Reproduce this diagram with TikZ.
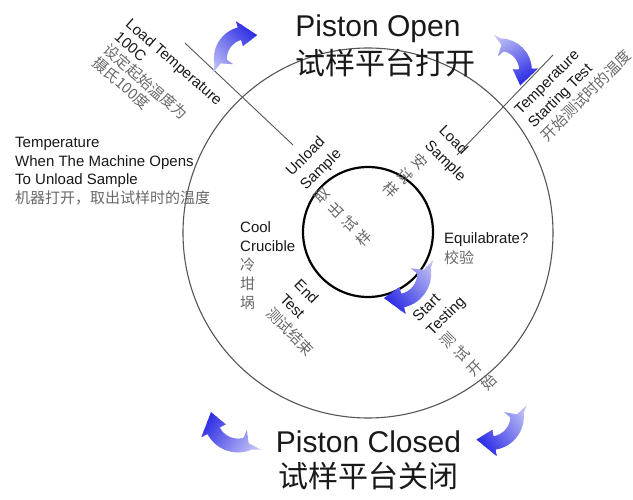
\documentclass[tikz,border=0pt]{standalone}
\usepackage{fontspec}
\setmainfont{Liberation Sans}
\newfontfamily\cjk{Noto Sans CJK SC}

\definecolor{txt}{RGB}{25,25,25}
\definecolor{zhgray}{RGB}{105,105,105}
\definecolor{ringgray}{RGB}{85,85,85}
\definecolor{arrowdark}{RGB}{28,28,228}
\definecolor{arrowlight}{RGB}{208,208,247}

% grey Chinese line inside an English label
\newcommand\zh[1]{{\cjk\color{zhgray}#1}}

% curved block arrow with a fish tail, pale at the tail and deep blue at the head;
% #1 centre, #2 angle, #3 scale
\newcommand\swoosh[3]{%
  \begin{scope}[shift={#1}, rotate=#2, scale=#3, x=1pt, y=1pt]
    \begin{scope}[shift={(0,-8.5)}]
      \clip (160:34) -- (148:30)
        arc[start angle=148, end angle=62, radius=30]
        -- (62:36) -- (22:24) -- (62:12) -- (62:18)
        arc[start angle=62, end angle=140, radius=18]
        -- (160:13) -- (147:24) -- cycle;
      \foreach \k in {0,...,30}{
        \pgfmathsetmacro\mix{100*\k/30}
        \fill[arrowdark!\mix!arrowlight] (-34+2*\k,0) rectangle (-31.6+2*\k,40);
      }
    \end{scope}
  \end{scope}}

\tikzset{
  smalltext/.style={inner sep=0pt, align=left, text=txt,
                    font=\fontsize{15}{19}\selectfont},
  headline/.style={inner sep=0pt, text=txt, font=\fontsize{30}{36}\selectfont},
  headlinezh/.style={headline, font=\fontsize{30}{36}\selectfont\cjk},
  outerring/.style={draw=ringgray, line width=1.1pt},
  innerring/.style={draw=black, line width=2.2pt},
  divider/.style={draw=ringgray, line width=0.9pt},
}

\begin{document}
\begin{tikzpicture}[x=1pt, y=-1pt]
  \useasboundingbox (0,0) rectangle (633,500);
  \fill[white] (0,0) rectangle (633,500);

  % rings
  \coordinate (hub) at (368,233);
  \coordinate (core) at (368,232);
  \draw[outerring] (hub) circle[radius=185];
  \draw[innerring] (core) circle[radius=65];

  % temperature divider lines
  \coordinate (ltA) at (185,43);
  \coordinate (ltB) at (293,145);
  \coordinate (rtA) at (553,55);
  \coordinate (rtB) at (457,155);
  \draw[divider] (ltA) -- (ltB);
  \draw[divider] (rtA) -- (rtB);

  % headings
  \node[headline, anchor=base] (open) at (378,37) {Piston Open};
  \node[headlinezh, anchor=base] (openzh) at (385,75) {试样平台打开};
  \node[headline, anchor=base] (closed) at (368.5,453) {Piston Closed};
  \node[headlinezh, anchor=base] (closedzh) at (368.5,487.5) {试样平台关闭};

  % labels outside the ring
  \node[smalltext, anchor=north west, font=\fontsize{15}{18.7}\selectfont]
    (opentemp) at (15,137)
    {Temperature\\When The Machine Opens\\To Unload Sample\\\zh{机器打开，取出试样时的温度}};
  \node[smalltext, anchor=north west, rotate=-41, font=\fontsize{15}{17}\selectfont]
    (loadtemp) at (132,17.5)
    {Load Temperature\\100C\\\zh{设定起始温度为}\\\zh{摄氏100度}};
  \node[smalltext, anchor=north west, rotate=45]
    (starttemp) at (513,108)
    {Temperature\\Starting Test\\\zh{开始测试时的温度}};

  % process steps
  \node[smalltext, anchor=north west, rotate=45, font=\fontsize{15}{20}\selectfont]
    (unload) at (284,169)
    {Unload\\Sample\\\zh{取}\\\zh{出}\\\zh{试}\\\zh{样}};
  \node[smalltext, anchor=north west, rotate=-45, font=\fontsize{15}{20}\selectfont]
    (load) at (446,124)
    {Load\\Sample\\\zh{安}\\\zh{试}\\\zh{样}};
  \node[smalltext, anchor=north west, font=\fontsize{15}{20}\selectfont]
    (equil) at (444,232)
    {Equilabrate?\\\zh{校验}};
  \node[smalltext, anchor=north west, rotate=45, font=\fontsize{15}{19.5}\selectfont]
    (start) at (411,315)
    {Start\\Testing\\\zh{测}\\\zh{试}\\\zh{开}\\\zh{始}};
  \node[smalltext, anchor=north west, rotate=-45, font=\fontsize{15}{20}\selectfont]
    (endtest) at (301,278)
    {End\\Test\\\zh{测试结束}};
  \node[smalltext, anchor=north west]
    (cool) at (240,221)
    {Cool\\Crucible\\\zh{冷}\\\zh{坩}\\\zh{埚}};

  % clockwise flow arrows
  \swoosh{(508,65.5)}{-59.7}{1.05}
  \swoosh{(403,281)}{-139.4}{1.15}
  \swoosh{(496,424)}{-142.7}{1.12}
  \swoosh{(232.5,426)}{145.8}{1.15}
  \swoosh{(240,52)}{43.4}{1.08}
\end{tikzpicture}
\end{document}
